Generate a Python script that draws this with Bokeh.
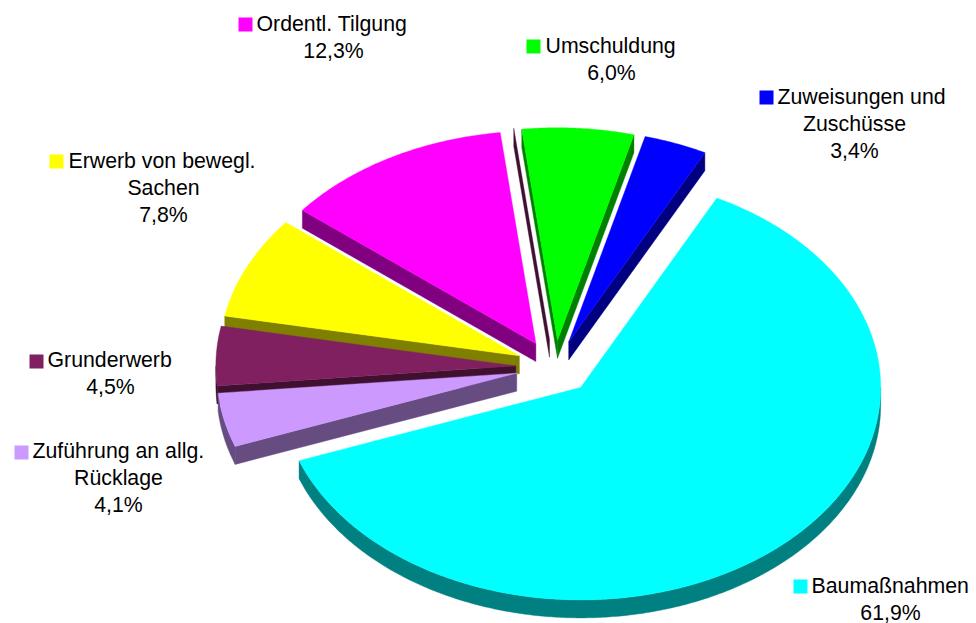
import math
from bokeh.plotting import figure
from bokeh.models import ColumnDataSource
from bokeh.core.properties import value
from bokeh.embed import file_html
from bokeh.resources import INLINE

# ---- data ----
categories = ["Baumaßnahmen", "Zuführung an allg. Rücklage", "Grunderwerb",
              "Erwerb von bewegl. Sachen", "Ordentl. Tilgung", "Umschuldung",
              "Zuweisungen und Zuschüsse"]
shares = [61.9, 4.1, 4.5, 7.8, 12.3, 6.0, 3.4]
top_colors = ["#00FFFF", "#CC99FF", "#802060", "#FFFF00", "#FF00FF", "#00FF00", "#0000FF"]
side_colors = ["#008080", "#664C80", "#401030", "#808000", "#800080", "#008000", "#000080"]
label_lines = [["Baumaßnahmen"], ["Zuführung an allg.", "Rücklage"], ["Grunderwerb"],
               ["Erwerb von bewegl.", "Sachen"], ["Ordentl. Tilgung"], ["Umschuldung"],
               ["Zuweisungen und", "Zuschüsse"]]

# ---- layout (reference pixels) ----
WIDTH, HEIGHT = 976, 623
CX, CY = 554.3, 366.7   # pie centre
RX, RY = 300, 212.5     # ellipse radii
EX, EY = 39, 27         # explosion offset
DEPTH = 18
START = 27.0
FONT_PX = 21.3
LINE_GAP = 27
TEXT_SHIFT = -8
# square left, square top, text left, first baseline, centre of the other lines
label_pos = [(793, 579, 811, 593, 890), (14, 445, 32, 458, 118), (29, 354, 47, 367, 110),
             (49, 154, 68, 168, 163), (238, 17, 256, 31, 333), (526, 39, 545, 53, 611),
             (759, 90, 777, 104, 854)]
SQ = 14

p = figure(width=WIDTH, height=HEIGHT, x_range=(0, WIDTH), y_range=(HEIGHT, 0),
           toolbar_location=None, output_backend="svg", min_border=0,
           outline_line_color=None, background_fill_color="white", border_fill_color="white",
           styles={"position": "absolute"})
p.axis.visible = False
p.grid.visible = False


def pt(ax, ay, t):
    r = math.radians(t)
    return ax + RX * math.sin(r), ay - RY * math.cos(r)


def arc(ax, ay, a, b):
    n = max(2, int(abs(b - a) * 2) + 1)
    return [pt(ax, ay, a + (b - a) * i / (n - 1)) for i in range(n)]


def poly(points, color):
    p.patch([q[0] for q in points], [q[1] for q in points], fill_color=color,
            line_color=color, line_width=0.4)


def edge_face(ax, ay, t, color):
    rx, ry = pt(ax, ay, t)
    poly([(ax, ay), (rx, ry), (rx, ry + DEPTH), (ax, ay + DEPTH)], color)


# slice geometry
slices = []
t = START
for s in shares:
    t0, t1 = t, t + s * 3.6
    mid = math.radians((t0 + t1) / 2)
    slices.append((t0, t1, CX + EX * math.sin(mid), CY - EY * math.cos(mid)))
    t = t1

# back to front: Zuweisungen, Umschuldung, Tilgung, Erwerb, Grunderwerb, Zufuehrung, Baumassnahmen
for i in [6, 5, 4, 3, 2, 1, 0]:
    t0, t1, ax, ay = slices[i]
    side, top = side_colors[i], top_colors[i]
    if i == 5:  # thin dark strip left of Umschuldung
        edge_face(ax - 8, ay - 1, t0, side_colors[2])
    if math.sin(math.radians(t0)) < 0:
        edge_face(ax, ay, t0, side)
    if math.sin(math.radians(t1)) > 0:
        edge_face(ax, ay, t1, side)
    lo, hi = max(t0, 90), min(t1, 270)
    if hi > lo:
        rim = arc(ax, ay, lo, hi)
        poly(rim + [(x, y + DEPTH) for x, y in reversed(rim)], side)
    poly([(ax, ay)] + arc(ax, ay, t0, t1), top)

# labels
sq_l, sq_r, sq_t, sq_b, sq_c = [], [], [], [], []
tx, ty, ta, tt = [], [], [], []
for i, lines in enumerate(label_lines):
    sl, st, xl, yb, xc = label_pos[i]
    sq_l.append(sl); sq_r.append(sl + SQ); sq_t.append(st); sq_b.append(st + SQ)
    sq_c.append(top_colors[i])
    pct = f"{shares[i]:.1f}".replace(".", ",") + "%"
    for j, txt in enumerate(lines + [pct]):
        tx.append(xl if j == 0 else xc)
        ty.append(yb + j * LINE_GAP)
        ta.append("left" if j == 0 else "center")
        tt.append(txt)

p.quad(left=sq_l, right=sq_r, top=sq_t, bottom=sq_b, fill_color=sq_c, line_color=None)
p.text(x="x", y="y", text="t", text_align="a", text_baseline="alphabetic", y_offset=TEXT_SHIFT,
       text_font=value("Liberation Sans"), text_font_size=f"{FONT_PX}px", text_color="#000000",
       source=ColumnDataSource(dict(x=tx, y=ty, t=tt, a=ta)))

open("out.html", "w").write(file_html(p, INLINE))
